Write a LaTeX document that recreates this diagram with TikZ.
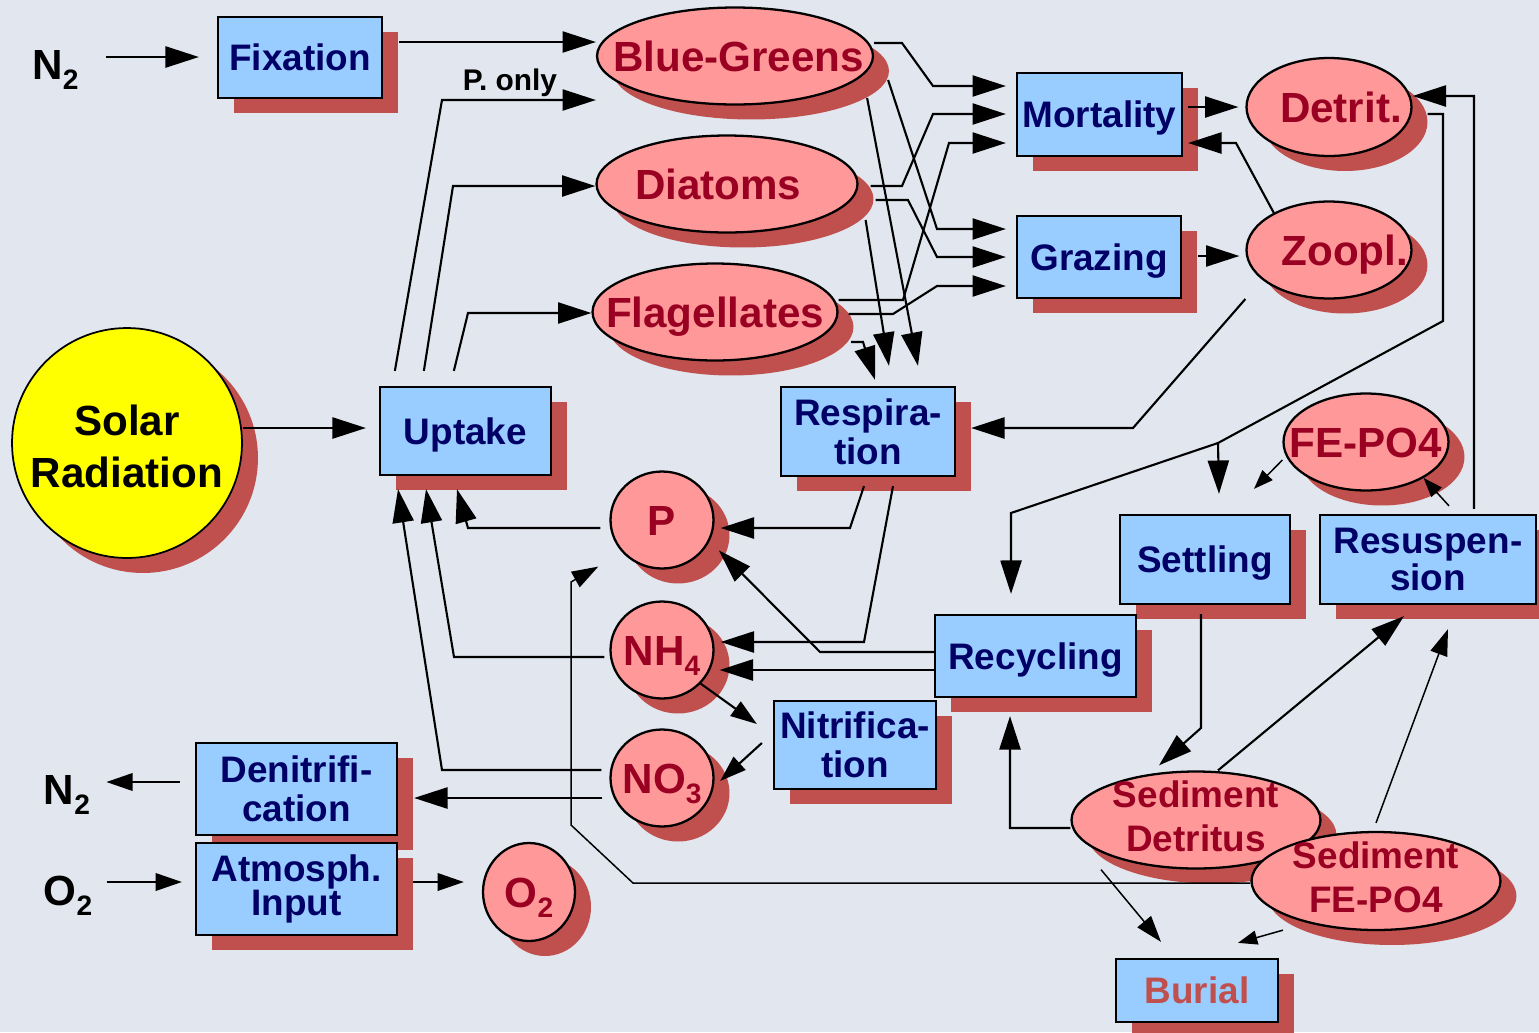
\documentclass[tikz,border=0pt]{standalone}
\usepackage{fontspec}
\setmainfont{Liberation Sans}
\usetikzlibrary{arrows.meta,shapes.geometric,shadows}
\definecolor{bgpanel}{HTML}{E1E6EF}
\definecolor{boxblue}{HTML}{99CCFF}
\definecolor{boxnavy}{HTML}{000066}
\definecolor{poolpink}{HTML}{FF9999}
\definecolor{poolred}{HTML}{990022}
\definecolor{shadowred}{HTML}{C0504D}
\definecolor{sunyellow}{HTML}{FFFF00}

\newcommand{\chemsub}[1]{\raisebox{-6pt}{\fontsize{16}{16}\selectfont #1}}
\newcommand{\poolname}[2][0pt]{\makebox[0pt]{\hspace{#1}\hspace{#1}\raisebox{-0.36em}[0pt][0pt]{#2}}}
\newcommand{\pooltwo}[4]{\makebox[0pt]{\raisebox{#3}[0pt][0pt]{#1}}\makebox[0pt]{\raisebox{#4}[0pt][0pt]{#2}}}

\tikzset{
  dropshadow/.style={general shadow={fill=shadowred, shadow xshift=0.32cm, shadow yshift=-0.3cm}},
  procbox/.style={draw, line width=1.3pt, fill=boxblue, text=boxnavy, inner sep=0pt, align=center,
    font=\bfseries\fontsize{21}{22}\selectfont, dropshadow},
  oneline/.style={text height=15pt, text depth=0pt},
  pool/.style={ellipse, draw, line width=1.3pt, fill=poolpink, text=poolred, inner sep=0pt,
    font=\bfseries\fontsize{24}{24}\selectfont, dropshadow},
  extlabel/.style={inner sep=0pt, anchor=base, font=\bfseries\fontsize{24}{24}\selectfont},
  flow/.style={line width=1.2pt, -{Triangle[length=19pt,width=12pt]}},
  midflow/.style={line width=1.2pt, -{Triangle[length=15pt,width=10pt]}},
  thinflow/.style={line width=0.85pt, -{Triangle[length=15pt,width=10pt]}},
  tinyflow/.style={line width=0.85pt, -{Triangle[length=11pt,width=8pt]}}
}

\begin{document}
\begin{tikzpicture}[x=0.02cm, y=-0.02cm]
  \useasboundingbox (0,0) rectangle (1539,1032);
  \fill[bgpanel] (0,0) rectangle (1539,1032);

  % ── Outside sources and sinks ──
  \node[extlabel] (nin) at (55.5,79) {N\chemsub{2}};
  \node[extlabel] (nout) at (67,804) {N\chemsub{2}};
  \node[extlabel] (oin) at (68,905) {O\chemsub{2}};
  \node[extlabel, font=\bfseries\fontsize{17}{17}\selectfont] (ponly) at (510,90) {P. only};
  \node[pool, circle, minimum size=4.6cm, fill=sunyellow, text=black, line width=1pt] (solar) at (127,443)
    {\pooltwo{Solar}{Radiation}{4pt}{-25.5pt}};

  % ── Process boxes ──
  \node[procbox, oneline, minimum width=3.28cm, minimum height=1.62cm] (fixation) at (300,57.5) {Fixation};
  \node[procbox, oneline, minimum width=3.3cm, minimum height=1.66cm] (mortality) at (1099.5,114.5) {Mortality};
  \node[procbox, oneline, minimum width=3.28cm, minimum height=1.64cm] (grazing) at (1099,257) {Grazing};
  \node[procbox, oneline, minimum width=3.42cm, minimum height=1.76cm] (uptake) at (465.5,431) {Uptake};
  \node[procbox, minimum width=3.48cm, minimum height=1.78cm] (respiration) at (868,431.5) {Respira-\\tion};
  \node[procbox, oneline, minimum width=3.4cm, minimum height=1.78cm] (settling) at (1205,559.5) {Settling};
  \node[procbox, minimum width=4.32cm, minimum height=1.78cm, font=\bfseries\fontsize{21}{18}\selectfont]
    (resusp) at (1428,559.5) {Resuspen-\\sion};
  \node[procbox, oneline, minimum width=4.02cm, minimum height=1.64cm] (recycling) at (1035.5,656) {Recycling};
  \node[procbox, minimum width=3.24cm, minimum height=1.76cm] (nitrif) at (855,745) {Nitrifica-\\tion};
  \node[procbox, minimum width=4.02cm, minimum height=1.84cm] (denitrif) at (296.5,789) {Denitrifi-\\cation};
  \node[procbox, minimum width=4.02cm, minimum height=1.84cm, font=\bfseries\fontsize{21}{19}\selectfont]
    (atmos) at (296.5,889) {Atmosph.\\Input};
  \node[procbox, oneline, minimum width=3.24cm, minimum height=1.26cm, text=shadowred] (burial) at (1197,990.5) {Burial};

  % ── Pools ──
  \node[pool, minimum width=5.52cm, minimum height=1.94cm] (bluegreens) at (735,56) {\poolname[2pt]{Blue-Greens}};
  \node[pool, minimum width=5.22cm, minimum height=1.94cm] (diatoms) at (727,184) {\poolname[-5pt]{Diatoms}};
  \node[pool, minimum width=4.9cm, minimum height=1.94cm] (flagellates) at (715,312) {\poolname{Flagellates}};
  \node[pool, minimum width=3.3cm, minimum height=1.96cm] (detrit) at (1329,107) {\poolname[6.8pt]{Detrit.}};
  \node[pool, minimum width=3.3cm, minimum height=1.94cm] (zoopl) at (1329,250) {\poolname[9pt]{Zoopl.}};
  \node[pool, minimum width=3.3cm, minimum height=1.94cm] (fepo4) at (1366,442) {\poolname{FE-PO4}};
  \node[pool, minimum width=2.06cm, minimum height=1.94cm] (p) at (662,520) {\poolname{P}};
  \node[pool, minimum width=2.06cm, minimum height=1.94cm] (nh4) at (662,650) {\poolname{NH\chemsub{4}}};
  \node[pool, minimum width=2.06cm, minimum height=1.94cm] (no3) at (662,778) {\poolname{NO\chemsub{3}}};
  \node[pool, minimum width=1.84cm, minimum height=1.96cm] (o2) at (529,892) {\poolname{O\chemsub{2}}};
  \node[pool, minimum width=4.98cm, minimum height=1.94cm, font=\bfseries\fontsize{21}{21}\selectfont]
    (seddet) at (1196,820) {\pooltwo{Sediment}{Detritus}{7.4pt}{-18.1pt}};
  \node[pool, minimum width=4.98cm, minimum height=1.96cm, font=\bfseries\fontsize{21}{21}\selectfont]
    (sedfepo4) at (1376,881) {\pooltwo{Sediment}{FE-PO4}{7.4pt}{-18.1pt}};

  % ── Inputs ──
  \draw[flow] ([xshift=0.54cm]nin.east |- 0,57) -- ([xshift=-0.36cm]fixation.west |- 0,57);
  \draw[flow] ([xshift=0.32cm]fixation.east |- 0,42) -- (bluegreens.west |- 0,42);
  \draw[flow] (solar.east |- 0,428) -- ([xshift=-0.26cm]uptake.west |- 0,428);

  % ── Uptake into the algae ──
  \draw[flow] ([xshift=0.32cm,yshift=0.3cm]uptake.north west) -- (442,100) -- (bluegreens.west |- 0,100);
  \draw[flow] ([xshift=0.9cm,yshift=0.3cm]uptake.north west) -- (453,186) -- (diatoms.west |- 0,186);
  \draw[flow] ([xshift=1.5cm,yshift=0.3cm]uptake.north west) -- (468,313) -- (flagellates.west |- 0,313);

  % ── Algal losses ──
  \draw[flow] (bluegreens.east |- 0,43) -- (902,43) -- (933,86) -- ([xshift=-0.2cm]mortality.west |- 0,86);
  \draw[flow] ([xshift=0.28cm]bluegreens.east |- 0,80) -- (937,229) -- ([xshift=-0.2cm]grazing.west |- 0,229);
  \draw[flow] ([xshift=-0.14cm]bluegreens.east |- 0,98) -- ([xshift=1cm,yshift=0.4cm]respiration.north);
  \draw[flow] ([xshift=0.24cm]diatoms.east |- 0,186) -- (902,186) -- (933,114) -- ([xshift=-0.2cm]mortality.west |- 0,114);
  \draw[flow] ([xshift=0.34cm]diatoms.east |- 0,200) -- (908,200) -- (937,257) -- ([xshift=-0.2cm]grazing.west |- 0,257);
  \draw[flow] ([xshift=0.14cm]diatoms.east |- 0,220) -- ([xshift=0.42cm,yshift=0.4cm]respiration.north);
  \draw[flow] (flagellates.east |- 0,300) -- (903,300) -- (949,143) -- ([xshift=-0.2cm]mortality.west |- 0,143);
  \draw[flow] ([xshift=0.2cm]flagellates.east |- 0,314) -- (893,314) -- (937,286) -- ([xshift=-0.2cm]grazing.west |- 0,286);
  \draw[flow] ([xshift=0.25cm]flagellates.east |- 0,342) -- (863,342) -- ([xshift=0.14cm,yshift=0.12cm]respiration.north);

  % ── Zooplankton and detritus ──
  \draw[flow] ([xshift=0.1cm]mortality.east |- 0,107) -- ([xshift=-0.14cm]detrit.west |- 0,107);
  \draw[flow] (zoopl.146) -- (1236,143) -- ([xshift=0.1cm]mortality.east |- 0,143);
  \draw[flow] ([xshift=0.32cm]grazing.east |- 0,256) -- ([xshift=-0.12cm]zoopl.west |- 0,256);
  \draw[flow] (zoopl.west |- 0,299) -- (1133,428) -- ([xshift=0.3cm]respiration.east |- 0,428);
  \coordinate (detsplit) at (1218,443);
  \draw[flow] ([xshift=0.3cm]detrit.east |- 0,114) -- (1443,114) -- (1443,321) -- (detsplit)
    -- ([xshift=0.28cm,yshift=0.4cm]settling.north);
  \draw[flow] (detsplit) -- (1011,513) -- ([xshift=-0.49cm,yshift=0.4cm]recycling.north);
  \draw[flow] ([xshift=0.92cm,yshift=0.1cm]resusp.north) -- (1474,96) -- (detrit.east |- 0,96);
  \draw[tinyflow] (fepo4.west |- 0,460) -- ([xshift=0.98cm,yshift=0.5cm]settling.north);
  \draw[tinyflow] ([xshift=0.42cm,yshift=0.16cm]resusp.north) -- (fepo4.-32);

  % ── Sediment ──
  \draw[flow] ([xshift=-0.08cm,yshift=-0.18cm]settling.south) -- (1201,728) -- ([xshift=-0.74cm,yshift=0.1cm]seddet.north);
  \draw[flow] ([xshift=0.44cm]seddet.north) -- ([xshift=-0.48cm,yshift=-0.22cm]resusp.south);
  \draw[thinflow] ([yshift=0.16cm]sedfepo4.north) -- ([xshift=0.4cm,yshift=-0.48cm]resusp.south);
  \draw[flow] (seddet.west |- 0,828) -- (1010,828) -- ([xshift=-0.51cm,yshift=-0.36cm]recycling.south);
  \draw[thinflow] ([xshift=-1.9cm]seddet.south) -- ([xshift=-0.72cm,yshift=0.32cm]burial.north);
  \draw[tinyflow] ([xshift=-1.86cm,yshift=0.02cm]sedfepo4.south) -- ([xshift=0.82cm,yshift=0.3cm]burial.north);
  \draw[thinflow] (sedfepo4.west |- 0,883) -- (633,883) -- (571,825) -- (571,582) -- (578,578)
    -- ([xshift=-0.53cm,yshift=-0.23cm]p.south west);

  % ── Nutrient recycling ──
  \draw[flow] ([xshift=-0.08cm,yshift=-0.18cm]respiration.south) -- (850,528) -- ([xshift=0.12cm]p.east |- 0,528);
  \draw[flow] ([xshift=0.5cm,yshift=-0.18cm]respiration.south) -- (864,642) -- ([xshift=0.12cm]nh4.east |- 0,642);
  \draw[flow] (recycling.west |- 0,652) -- (820,652) -- ([xshift=0.22cm,yshift=-0.12cm]p.-28);
  \draw[flow] (recycling.west |- 0,670) -- ([xshift=0.1cm]nh4.east |- 0,670);
  \draw[midflow] (nh4.-41) -- ([xshift=-0.32cm,yshift=0.42cm]nitrif.west);
  \draw[midflow] ([xshift=-0.22cm,yshift=0.04cm]nitrif.west) -- ([xshift=0.11cm,yshift=-0.06cm]no3.east);

  % ── Back to uptake ──
  \draw[flow] ([xshift=-0.18cm]p.west |- 0,528) -- (468,528) -- ([xshift=-0.17cm,yshift=-0.26cm]uptake.south);
  \draw[flow] ([xshift=-0.1cm]nh4.west |- 0,657) -- (454,657) -- ([xshift=-0.79cm,yshift=-0.26cm]uptake.south);
  \draw[flow] ([xshift=-0.16cm]no3.west |- 0,770) -- (442,770) -- ([xshift=-1.35cm,yshift=-0.26cm]uptake.south);

  % ── Gas exchange ──
  \draw[flow] ([xshift=-0.14cm]no3.west |- 0,798) -- ([xshift=0.32cm]denitrif.east |- 0,798);
  \draw[midflow] ([xshift=-0.3cm]denitrif.west |- 0,782) -- ([xshift=0.32cm]nout.east |- 0,782);
  \draw[midflow] ([xshift=0.28cm]oin.east |- 0,882) -- ([xshift=-0.26cm]atmos.west |- 0,882);
  \draw[midflow] ([xshift=0.3cm]atmos.east |- 0,882) -- ([xshift=-0.36cm]o2.west |- 0,882);
\end{tikzpicture}
\end{document}
